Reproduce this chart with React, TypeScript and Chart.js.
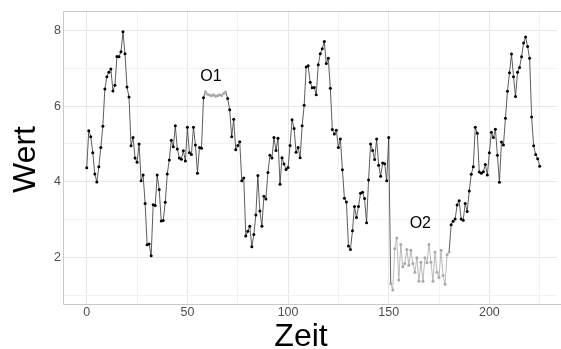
import React, { useEffect, useRef } from "react";
import { Chart, registerables } from "chart.js";

Chart.register(...registerables);

// Messwerte (Zeit = Index 0..225)
const wert: number[] = [
  4.37, 5.35, 5.19, 4.77, 4.21, 4.0, 4.4, 4.91, 5.47, 6.45,
  6.77, 6.89, 6.98, 6.4, 6.55, 7.31, 7.3, 7.43, 7.96, 7.38,
  6.5, 6.24, 4.95, 5.17, 4.63, 4.52, 5.0, 4.03, 4.18, 3.43,
  2.34, 2.36, 2.05, 3.4, 3.38, 4.18, 3.8, 2.97, 2.98, 3.46,
  4.21, 4.58, 5.1, 4.93, 5.48, 4.87, 4.63, 4.6, 4.82, 4.55,
  5.44, 4.77, 4.72, 5.44, 4.97, 4.23, 4.91, 4.89, 6.22, 6.38,
  6.31, 6.29, 6.27, 6.3, 6.26, 6.27, 6.3, 6.28, 6.33, 6.37,
  6.2, 5.9, 5.19, 5.65, 4.85, 4.96, 5.06, 4.03, 4.1, 2.57,
  2.7, 2.83, 2.29, 2.61, 3.13, 4.17, 3.23, 2.83, 3.62, 3.55,
  4.25, 4.7, 4.63, 5.17, 4.83, 5.15, 3.94, 4.64, 4.47, 4.33,
  4.38, 4.96, 5.64, 5.41, 4.78, 4.91, 4.64, 5.48, 6.02, 7.03,
  7.06, 6.63, 6.48, 6.49, 6.3, 7.09, 7.38, 7.51, 7.7, 7.12,
  7.26, 6.47, 5.38, 5.26, 5.36, 4.91, 5.13, 4.32, 3.57, 3.47,
  2.31, 2.22, 2.71, 3.35, 3.06, 3.35, 3.7, 3.73, 3.56, 2.92,
  4.05, 5.0, 4.83, 4.59, 5.13, 4.44, 4.15, 4.5, 4.48, 4.03,
  5.17, 1.32, 1.15, 2.24, 2.52, 1.41, 2.35, 1.76, 1.85, 2.22,
  1.8, 2.2, 1.85, 1.62, 2.0, 1.38, 1.88, 1.38, 2.0, 1.87,
  2.35, 1.88, 1.38, 2.15, 1.62, 1.48, 2.2, 1.53, 1.3, 2.08,
  2.15, 2.87, 2.96, 3.02, 3.39, 3.5, 3.02, 2.99, 3.43, 3.22,
  3.76, 4.2, 4.4, 5.44, 5.28, 4.26, 4.23, 4.27, 4.46, 4.18,
  4.77, 5.31, 5.17, 5.39, 4.7, 3.99, 5.05, 4.97, 5.68, 6.39,
  6.88, 7.37, 6.77, 6.25, 6.89, 7.02, 7.3, 7.66, 7.82, 7.57,
  7.26, 5.71, 4.95, 4.72, 4.61, 4.41,
];
const zeit: number[] = wert.map((_, i) => i);

// Ausreißer-Abschnitte (Index-Bereiche)
const o1Range: [number, number] = [59, 69];
const o2Range: [number, number] = [151, 180];

const annotations = [
  { text: "O1", x: 61.7, y: 6.79 },
  { text: "O2", x: 165.7, y: 2.89 },
];

const xTicks = [0, 25, 50, 75, 100, 125, 150, 175, 200, 225];
const xLabelTicks = [0, 50, 100, 150, 200];
const yTicks = [1, 2, 3, 4, 5, 6, 7, 8];
const yLabelTicks = [2, 4, 6, 8];

const xTitle = "Zeit";
const yTitle = "Wert";

const BLACK = "#000000";
const LINE = "#333333";
const GREY = "#a8a8a8";
const FONT = "'Liberation Sans', Arial, Helvetica, sans-serif";

function isGrey(i: number): boolean {
  return (i >= o1Range[0] && i <= o1Range[1]) || (i >= o2Range[0] && i <= o2Range[1]);
}

const overlayPlugin = {
  id: "overlay",
  beforeDatasetsDraw(chart: any) {
    const { ctx, chartArea } = chart;
    ctx.save();
    ctx.strokeStyle = "#c9c9c9";
    ctx.lineWidth = 1;
    ctx.beginPath();
    const l = Math.round(chartArea.left) - 0.5;
    const t = Math.round(chartArea.top) + 0.5;
    const b = Math.round(chartArea.bottom) + 0.5;
    ctx.moveTo(chartArea.right + 5, t);
    ctx.lineTo(l, t);
    ctx.lineTo(l, b);
    ctx.lineTo(chartArea.right + 5, b);
    ctx.stroke();
    ctx.restore();
  },
  afterDraw(chart: any) {
    const { ctx, scales } = chart;
    ctx.save();
    ctx.fillStyle = "#000";
    ctx.font = `16px ${FONT}`;
    ctx.textAlign = "center";
    ctx.textBaseline = "middle";
    for (const a of annotations) {
      ctx.fillText(a.text, scales.x.getPixelForValue(a.x), scales.y.getPixelForValue(a.y));
    }
    ctx.font = `32px ${FONT}`;
    ctx.textBaseline = "alphabetic";
    ctx.fillText(xTitle, 301, 346);
    ctx.translate(35, 159.5);
    ctx.rotate(-Math.PI / 2);
    ctx.fillText(yTitle, 0, 0);
    ctx.restore();
  },
};

export default function App() {
  const ref = useRef<HTMLCanvasElement | null>(null);

  useEffect(() => {
    document.body.style.margin = "0";
    if (!ref.current) return;
    const chart = new Chart(ref.current, {
      type: "line",
      data: {
        datasets: [
          {
            data: zeit.map((x, i) => ({ x, y: wert[i] })),
            borderColor: LINE,
            borderWidth: 0.8,
            pointRadius: 1.5,
            pointBorderWidth: 0,
            pointBackgroundColor: (c: any) => (isGrey(c.dataIndex) ? GREY : BLACK),
            tension: 0,
            segment: {
              borderColor: (c: any) =>
                isGrey(c.p0DataIndex) && isGrey(c.p1DataIndex) ? GREY : LINE,
            },
          },
        ],
      },
      options: {
        responsive: false,
        maintainAspectRatio: false,
        animation: false,
        events: [],
        layout: { padding: { top: 7, left: 0, right: 0, bottom: 0 } },
        plugins: {
          legend: { display: false },
          tooltip: { enabled: false },
          title: { display: false },
        },
        scales: {
          x: {
            type: "linear",
            min: -11.3,
            max: 233.6,
            afterBuildTicks: (axis: any) => {
              axis.ticks = xTicks.map((v) => ({ value: v }));
            },
            afterFit: (s: any) => {
              s.height = 45;
            },
            grid: {
              drawTicks: false,
              color: (c: any) => (xLabelTicks.includes(c.tick?.value) ? "#e6e6e6" : "#f2f2f2"),
              lineWidth: 1,
            },
            border: { display: false },
            ticks: {
              autoSkip: false,
              maxRotation: 0,
              padding: 1,
              color: "#4d4d4d",
              font: { size: 12.5, family: FONT },
              callback: (v: any) => (xLabelTicks.includes(Number(v)) ? String(v) : ""),
            },
            title: { display: false },
          },
          y: {
            type: "linear",
            min: 0.78,
            max: 8.52,
            afterBuildTicks: (axis: any) => {
              axis.ticks = yTicks.map((v) => ({ value: v }));
            },
            afterFit: (s: any) => {
              s.width = 64;
            },
            grid: {
              drawTicks: false,
              color: (c: any) => (yLabelTicks.includes(c.tick?.value) ? "#e6e6e6" : "#f2f2f2"),
              lineWidth: 1,
            },
            border: { display: false },
            ticks: {
              autoSkip: false,
              padding: 3,
              color: "#4d4d4d",
              font: { size: 12.5, family: FONT },
              callback: (v: any) => (yLabelTicks.includes(Number(v)) ? String(v) : ""),
            },
            title: { display: false },
          },
        },
      },
      plugins: [overlayPlugin],
    } as any);
    return () => chart.destroy();
  }, []);

  return (
    <div style={{ position: "absolute", left: 0, top: 0, width: 561, height: 349 }}>
      <canvas ref={ref} width={561} height={349} style={{ width: 561, height: 349 }} />
    </div>
  );
}
